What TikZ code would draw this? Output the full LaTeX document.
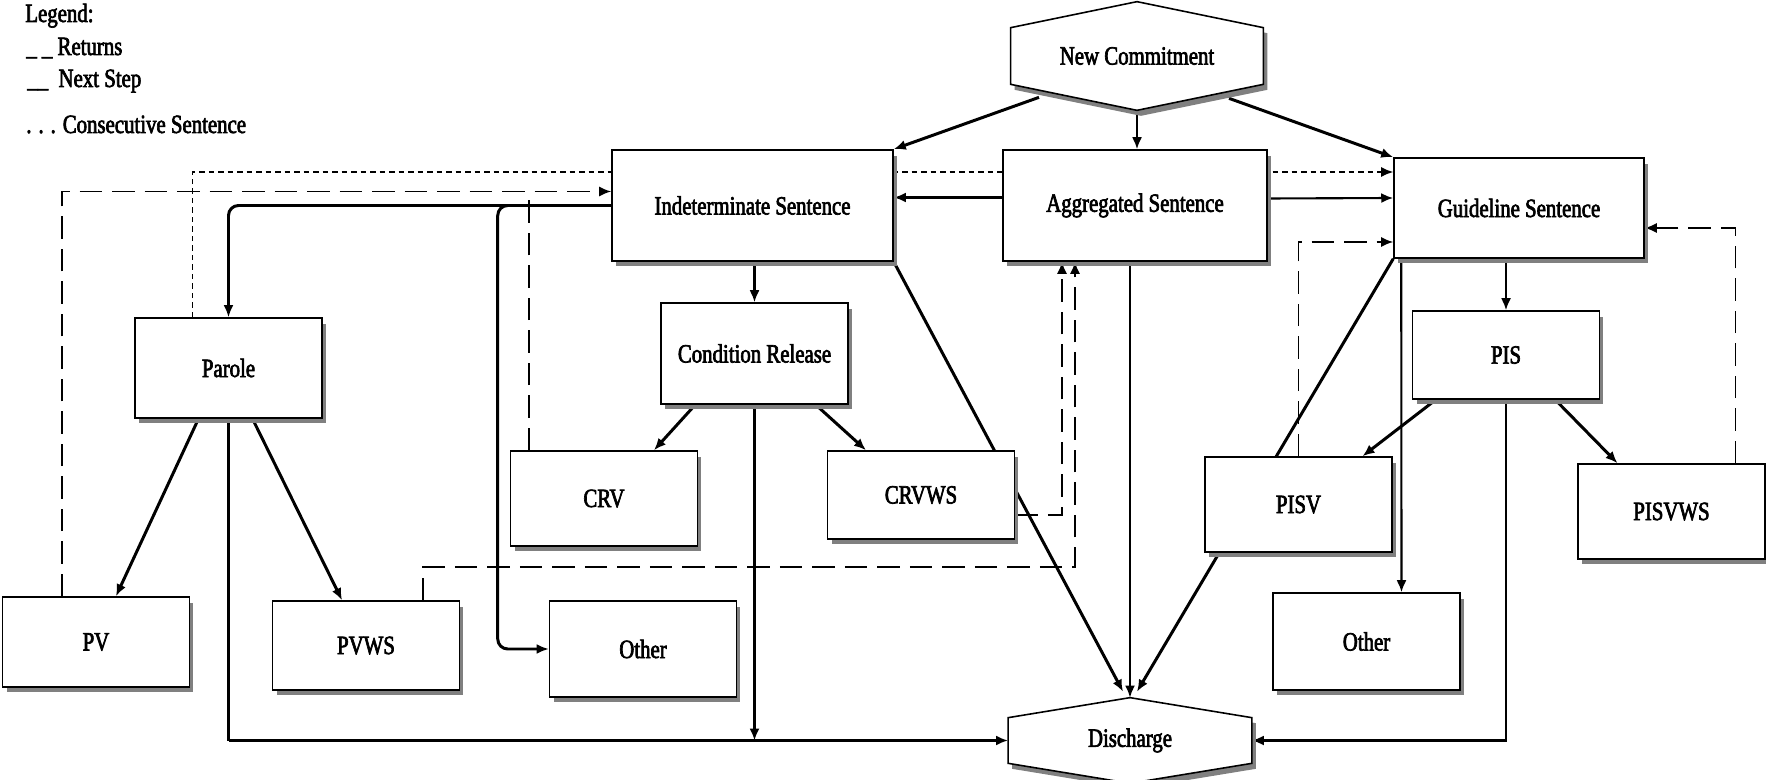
\documentclass[tikz,border=0pt]{standalone}
\usepackage{fontspec}
\setmainfont{Liberation Serif}[FakeStretch=0.79, FakeBold=2.5]
\usepackage{tikz}
\usetikzlibrary{arrows.meta,calc,shadows,backgrounds}

\newcommand{\drawhex}[2]{%
  \draw[hexline] (#1.north) -- ($(#1.north east)+(0,#2)$) -- ($(#1.south east)+(0,-#2)$)
    -- (#1.south) -- ($(#1.south west)+(0,-#2)$) -- ($(#1.north west)+(0,#2)$) -- cycle;}

\tikzset{
  boxshadow/.style={drop shadow={shadow xshift=0.08cm, shadow yshift=-0.11cm, fill=black!50, opacity=1}},
  stagebox/.style={draw, line width=0.9pt, fill=white, minimum width=3.74cm, minimum height=1.9cm, boxshadow},
  hexlabel/.style={inner sep=0pt},
  hexline/.style={draw, line width=0.9pt, fill=white, boxshadow},
  legendtext/.style={anchor=base west, inner sep=0pt},
  nextstep/.style={-{Latex[length=2.4mm,width=2mm]}, line width=1.2pt},
  mainstep/.style={nextstep, line width=1.7pt},
  returns/.style={nextstep, line width=1pt, dash pattern=on 0.45cm off 0.2cm},
  consec/.style={nextstep, line width=0.9pt, dash pattern=on 0.11cm off 0.08cm}
}

\begin{document}
\begin{tikzpicture}[x=0.02cm, y=-0.02cm, font=\fontsize{15}{17}\selectfont]
\useasboundingbox (0,0) rectangle (1766,780);

\node[legendtext] (legend) at (25,22) {Legend:};
\node[legendtext] (lgret) at (26,55) {\_ \_ Returns};
\node[legendtext] (lgnext) at (27,87) {\_\_~~Next Step};
\node[legendtext] (lgcons) at (26,133) {. . . Consecutive Sentence};

\node[hexlabel, minimum width=5.04cm, minimum height=2.16cm] (newc) at (1137,56) {New Commitment};
\node[stagebox, minimum width=5.62cm, minimum height=2.22cm] (indet) at (752.5,205.5) {Indeterminate Sentence};
\node[stagebox, minimum width=5.28cm, minimum height=2.22cm] (aggr) at (1135,205.5) {Aggregated Sentence};
\node[stagebox, minimum width=5cm, minimum height=2cm] (guide) at (1519,208) {Guideline Sentence};
\node[stagebox, minimum height=2cm] (parole) at (228.5,368) {Parole};
\node[stagebox, minimum height=2.02cm] (condrel) at (754.5,353.5) {Condition Release};
\node[stagebox] (crv) at (604,498.5) {CRV};
\node[stagebox, minimum height=1.76cm] (crvws) at (921,495) {CRVWS};
\node[stagebox] (pisv) at (1298.5,504.5) {PISV};
\node[stagebox, minimum height=1.76cm] (pis) at (1506,355) {PIS};
\node[stagebox] (pisvws) at (1671.5,511.5) {PISVWS};
\node[stagebox, minimum height=1.8cm] (pv) at (96,642) {PV};
\node[stagebox, minimum height=1.78cm] (pvws) at (366,645.5) {PVWS};
\node[stagebox, minimum height=1.92cm] (otherl) at (643,649) {Other};
\node[stagebox, minimum height=1.94cm] (otherr) at (1366.5,641.5) {Other};
\node[hexlabel, minimum width=4.86cm, minimum height=1.7cm] (disch) at (1130,740.5) {Discharge};

\begin{scope}[on background layer]
\draw[mainstep] ($(newc.south)+(-98,-13)$) -- (indet.north east);
\draw[nextstep] (newc.south) -- (newc.south |- aggr.north);
\draw[mainstep] ($(newc.south)+(92,-12)$) -- (guide.north west);
\draw[consec] ($(parole.north)+(-36,0)$) |- ($(guide.west)+(0,-36)$);
\draw[returns] ($(pv.north)+(-34,0)$) |- ($(indet.west)+(0,-14)$);
\draw[returns, -] ($(crv.north)+(-75,0)$) -- ++(0,-259);
\draw[mainstep, rounded corners=0.2cm] (indet.west) -| (parole.north);
\draw[mainstep, rounded corners=0.2cm] (indet.west) -| ($(otherl.west)+(-51,0)$) -- (otherl.west);
\draw[nextstep] (condrel.north |- indet.south) -- (condrel.north);
\draw[mainstep] ($(condrel.south west)+(35,0)$) -- ($(crv.north)+(50,0)$);
\draw[mainstep] ($(condrel.south east)+(-33,0)$) -- ($(crvws.north)+(-55,0)$);
\draw[nextstep] (condrel.south) -- (condrel.south |- disch.west);
\draw[mainstep] ($(parole.south)+(-30,0)$) -- ($(pv.north)+(20,0)$);
\draw[mainstep] ($(parole.south)+(24,0)$) -- ($(pvws.north)+(-24,0)$);
\draw[nextstep, -] (parole.south) -- (parole.south |- disch.west);
\draw[mainstep] (parole.south |- disch.west) -- (disch.west);
\draw[returns] ($(pvws.north)+(57,0)$) -- ++(0,-33) -| ($(aggr.south)+(-60,0)$);
\draw[returns] ($(crvws.east)+(0,20)$) -| ($(aggr.south)+(-73,0)$);
\draw[mainstep] (indet.south east) -- ($(disch.north)+(-7,-6)$);
\draw[nextstep] (disch.north |- aggr.south) -- (disch.north);
\draw[mainstep] ($(aggr.west)+(0,-8)$) -- ($(indet.east)+(0,-8)$);
\draw[nextstep] ($(aggr.east)+(0,-7)$) -- ($(guide.west)+(0,-10)$);
\draw[returns] (pisv.north) |- ($(guide.west)+(0,34)$);
\draw[mainstep] (guide.south west) -- ($(disch.north)+(7,-6)$);
\draw[nextstep] ($(guide.south west)+(8,0)$) -- ($(otherr.north)+(35,0)$);
\draw[nextstep] (pis.north |- guide.south) -- (pis.north);
\draw[mainstep] ($(pis.south west)+(24,0)$) -- ($(pisv.north)+(64,0)$);
\draw[mainstep] ($(pis.south east)+(-45,0)$) -- ($(pisvws.north)+(-54,0)$);
\draw[nextstep] (pis.south) |- (disch.east);
\draw[returns] ($(pisvws.north)+(64,0)$) |- ($(guide.east)+(0,20)$);
\drawhex{newc}{26}
\drawhex{disch}{20}
\end{scope}
\end{tikzpicture}
\end{document}
